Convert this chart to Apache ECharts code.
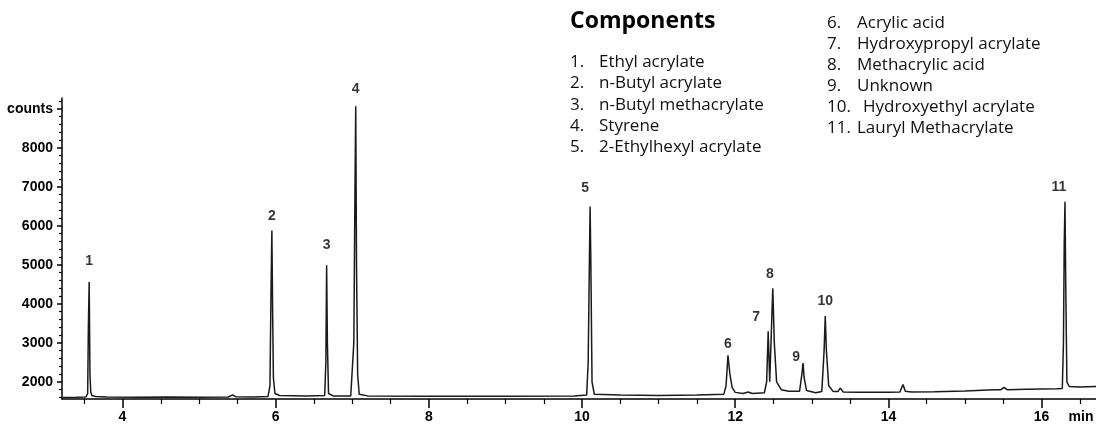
<!DOCTYPE html>
<html><head><meta charset="utf-8">
<script src="https://cdn.jsdelivr.net/npm/echarts@6/dist/echarts.min.js"></script>
<style>html,body{margin:0;padding:0;background:#fff}#c{width:1096px;height:426px}</style>
</head><body><div id="c"></div>
<script>
// Chromatogram trace: [retention time (min), counts]
const trace = [
[3.22,1600],[3.40,1605],[3.52,1610],[3.545,1700],[3.555,3500],[3.565,4560],[3.575,2200],[3.585,1750],[3.60,1650],[3.65,1625],[3.80,1612],[4.2,1606],[4.6,1610],[5.0,1608],[5.38,1612],[5.44,1665],[5.48,1615],[5.7,1612],[5.90,1625],[5.925,1900],[5.94,4500],[5.95,5880],[5.96,3800],[5.97,2100],[5.99,1700],[6.05,1650],[6.4,1640],[6.64,1650],[6.655,2500],[6.665,4990],[6.675,3000],[6.69,1700],[6.75,1640],[6.98,1640],[7.02,3000],[7.035,6900],[7.045,9070],[7.055,5000],[7.07,2200],[7.09,1680],[7.2,1640],[8.0,1632],[9.0,1632],[9.9,1640],[10.06,1660],[10.08,2500],[10.095,5000],[10.105,6500],[10.115,5000],[10.13,2000],[10.16,1680],[10.5,1660],[11.0,1652],[11.5,1660],[11.85,1680],[11.88,1900],[11.905,2680],[11.93,2200],[11.96,1850],[12.0,1730],[12.1,1700],[12.17,1740],[12.22,1700],[12.38,1720],[12.41,2000],[12.43,3300],[12.45,2000],[12.47,3200],[12.49,4400],[12.51,3000],[12.54,2000],[12.6,1800],[12.7,1760],[12.84,1760],[12.87,2200],[12.885,2480],[12.9,2100],[12.93,1780],[13.05,1720],[13.13,1750],[13.16,2800],[13.175,3690],[13.19,2800],[13.22,1900],[13.28,1750],[13.34,1750],[13.37,1840],[13.41,1740],[13.6,1730],[14.0,1730],[14.15,1740],[14.19,1930],[14.22,1760],[14.3,1740],[14.6,1745],[15.0,1765],[15.3,1790],[15.42,1800],[15.44,1850],[15.47,1800],[15.51,1860],[15.55,1800],[15.8,1810],[16.2,1820],[16.27,1830],[16.285,3000],[16.295,5500],[16.305,6620],[16.315,4500],[16.33,2000],[16.36,1880],[16.5,1870],[16.71,1880]
];
const peakNumbers = ['1','2','3','4','5','6','7','8','9','10','11'];
const peakTimes   = [3.565, 5.95, 6.665, 7.045, 10.105, 11.905, 12.43, 12.49, 12.885, 13.175, 16.305];
const peakHeights = [4560, 5880, 4990, 9070, 6500, 2680, 3300, 4400, 2480, 3690, 6620];
const xMajorTicks = [4, 6, 8, 10, 12, 14, 16];
const xMinorTicks = [3.5,4.5,5,5.5,6.5,7,7.5,8.5,9,9.5,10.5,11,11.5,12.5,13,13.5,14.5,15,15.5,16.5];
const xUnitLabel = 'min';
const yMajorTicks = [2000, 3000, 4000, 5000, 6000, 7000, 8000, 9000];
const yTickLabels = ['2000','3000','4000','5000','6000','7000','8000','counts'];
const yMinorTicks = [1600,1800,2200,2400,2600,2800,3200,3400,3600,3800,4200,4400,4600,4800,5200,5400,5600,5800,6200,6400,6600,6800,7200,7400,7600,7800,8200,8400,8600,8800,9200];
const componentsTitle = 'Components';
const componentNumbers = ['1.','2.','3.','4.','5.','6.','7.','8.','9.','10.','11.'];
const componentNames = ['Ethyl acrylate','n-Butyl acrylate','n-Butyl methacrylate','Styrene','2-Ethylhexyl acrylate','Acrylic acid','Hydroxypropyl acrylate','Methacrylic acid','Unknown','Hydroxyethyl acrylate','Lauryl Methacrylate'];

const X_MIN = 3.21, X_MAX = 16.71, Y_MIN = 1560, Y_MAX = 9280;
const labelFont = {fontFamily:'Liberation Sans, Arial, sans-serif', fontWeight:'bold', fontSize:14, color:'#000'};
const labelOffsets = [[0,-6],[0,0],[0,-6],[0,-3],[-5,-4],[0,3],[-12,0],[-3,0],[-7,9],[0,0],[-6,0]];

const chart = echarts.init(document.getElementById('c'), null, {renderer:'canvas'});

const graphics = [];
graphics.push({type:'text', left:570, top:10, style:{text:componentsTitle, font:'bold 23px "Open Sans", sans-serif', fill:'#000'}});
componentNames.forEach((n,i)=>{
  const left = i < 5;
  const row = left ? i : i-5;
  const y = left ? 62 + row*21.4 : 23 + row*21;
  const xNum = left ? 570 : 827;
  const xName = left ? 599 : (componentNumbers[i]==='10.' ? 863 : 857);
  graphics.push({type:'text', x:xNum, y:y, style:{text:componentNumbers[i], font:'17px "Open Sans", sans-serif', fill:'#111', textVerticalAlign:'middle'}});
  graphics.push({type:'text', x:xName, y:y, style:{text:n, font:'17px "Open Sans", sans-serif', fill:'#111', textVerticalAlign:'middle'}});
});
graphics.push({type:'text', x:1081, y:417, style:{text:xUnitLabel, font:'bold 14px "Liberation Sans", Arial, sans-serif', fill:'#000', textAlign:'center', textVerticalAlign:'middle'}});

const axisLineStyle = {color:'#000', width:1.5};
chart.setOption({
  animation:false,
  backgroundColor:'#fff',
  grid:{left:62, right:0, top:98, bottom:27, containLabel:false},
  xAxis:[
    {type:'value', min:X_MIN, max:X_MAX, position:'bottom',
     axisLine:{show:true, onZero:false, lineStyle:axisLineStyle},
     axisTick:{show:true, length:9, lineStyle:axisLineStyle, customValues:xMajorTicks},
     axisLabel:{show:true, margin:11, customValues:xMajorTicks, ...labelFont},
     splitLine:{show:false}},
    {type:'value', min:X_MIN, max:X_MAX, position:'bottom',
     axisLine:{show:false, onZero:false},
     axisTick:{show:true, length:5, lineStyle:{color:'#000', width:1.2}, customValues:xMinorTicks},
     axisLabel:{show:false}, splitLine:{show:false}}
  ],
  yAxis:[
    {type:'value', min:Y_MIN, max:Y_MAX, position:'left',
     axisLine:{show:true, onZero:false, lineStyle:axisLineStyle},
     axisTick:{show:true, length:5, lineStyle:axisLineStyle, customValues:yMajorTicks},
     axisLabel:{show:true, margin:9, customValues:yMajorTicks,
       formatter:(v)=>{const k=yMajorTicks.indexOf(v); return k>=0? yTickLabels[k] : '';}, ...labelFont},
     splitLine:{show:false}},
    {type:'value', min:Y_MIN, max:Y_MAX, position:'left',
     axisLine:{show:false, onZero:false},
     axisTick:{show:true, length:3, lineStyle:{color:'#000', width:1.2}, customValues:yMinorTicks},
     axisLabel:{show:false}, splitLine:{show:false}}
  ],
  graphic:graphics,
  series:[
    {type:'line', xAxisIndex:0, yAxisIndex:0, data:trace, showSymbol:false, symbol:'none',
     lineStyle:{color:'#1a1a1a', width:1.5}, silent:true, z:3},
    {type:'scatter', xAxisIndex:0, yAxisIndex:0, symbolSize:1, itemStyle:{color:'rgba(0,0,0,0)'}, silent:true, z:4,
     data:peakNumbers.map((n,i)=>({name:n, value:[peakTimes[i], peakHeights[i]],
       label:{show:true, position:'top', distance:7, offset:labelOffsets[i], formatter:n, ...labelFont}}))}
  ]
});
</script></body></html>
